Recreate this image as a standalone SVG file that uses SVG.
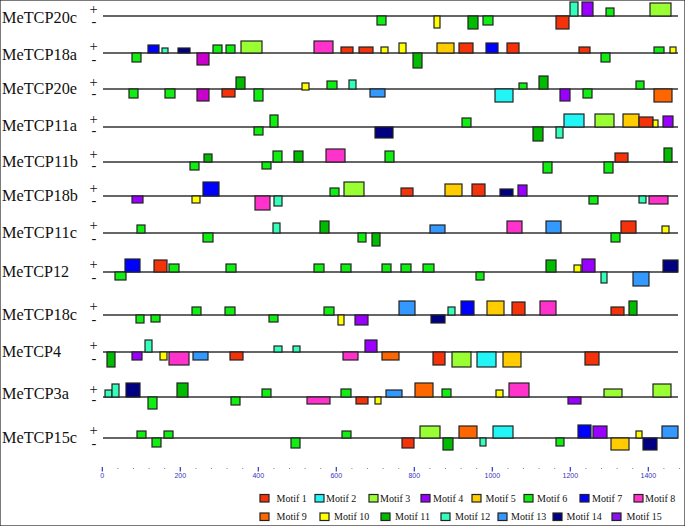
<svg xmlns="http://www.w3.org/2000/svg" width="685" height="526" viewBox="0 0 685 526">
<style>
rect{stroke:#222;stroke-width:1.2}
.ln{stroke:#333;stroke-width:1.6}
.lab{font-family:"Liberation Serif","Times New Roman",serif;font-size:17.5px;fill:#111}
.sg{font-family:"Liberation Serif","Times New Roman",serif;font-size:14.5px;fill:#111;text-anchor:middle}
.ax{font-family:"Liberation Sans",Arial,sans-serif;font-size:7px;fill:#3333bb;text-anchor:middle}
.tk{stroke:#3333bb;stroke-width:1.2}
.dt{fill:#777}
.lg{font-family:"Liberation Serif","Times New Roman",serif;font-size:10px;fill:#111}
.m1{fill:#F5330A}.m2{fill:#22F5F5}.m3{fill:#99FF33}.m4{fill:#9900FF}.m5{fill:#FFCC00}
.m6{fill:#11EE11}.m7{fill:#0000FF}.m8{fill:#FF33CC}.m9{fill:#FF6600}.m10{fill:#FFFF00}
.m11{fill:#00BB00}.m12{fill:#33FFBB}.m13{fill:#3399FF}.m14{fill:#000080}.m15{fill:#8811EE}.mg{fill:#CC00CC}
</style>
<rect width="685" height="526" fill="#fff" stroke="none"/>

<g id="MeTCP20c">
<line class="ln" x1="103" y1="16" x2="678" y2="16"/>
<text class="lab" x="2" y="23" textLength="75" lengthAdjust="spacingAndGlyphs">MeTCP20c</text>
<text class="sg" x="93.5" y="13.5">+</text><text class="sg" x="94" y="26">-</text>
<rect class="m6" x="377" y="16" width="9" height="9"/>
<rect class="m10" x="434" y="16" width="6" height="12"/>
<rect class="m11" x="468" y="16" width="10" height="13"/>
<rect class="m6" x="483" y="16" width="10" height="9"/>
<rect class="m1" x="556" y="16" width="13" height="13"/>
<rect class="m12" x="570" y="2" width="8" height="14"/>
<rect class="m4" x="582" y="2" width="11" height="14"/>
<rect class="m6" x="606" y="8" width="8" height="8"/>
<rect class="m3" x="650" y="3" width="21" height="13"/>
</g>

<g id="MeTCP18a">
<line class="ln" x1="103" y1="53" x2="678" y2="53"/>
<text class="lab" x="2" y="60" textLength="75" lengthAdjust="spacingAndGlyphs">MeTCP18a</text>
<text class="sg" x="93.5" y="50.5">+</text><text class="sg" x="94" y="63.5">-</text>
<rect class="m6" x="132" y="53" width="9" height="9"/>
<rect class="m7" x="148" y="45" width="11" height="8"/>
<rect class="m12" x="162" y="48" width="6" height="5"/>
<rect class="m14" x="178" y="48" width="12" height="5"/>
<rect class="mg" x="197" y="53" width="12" height="12"/>
<rect class="m6" x="213" y="45" width="9" height="8"/>
<rect class="m6" x="226" y="45" width="9" height="8"/>
<rect class="m3" x="241" y="41" width="21" height="12"/>
<rect class="m8" x="314" y="41" width="19" height="12"/>
<rect class="m1" x="341" y="47" width="12" height="6"/>
<rect class="m1" x="359" y="47" width="14" height="6"/>
<rect class="m10" x="381" y="47" width="7" height="6"/>
<rect class="m10" x="399" y="43" width="7" height="10"/>
<rect class="m11" x="413" y="53" width="9" height="15"/>
<rect class="m5" x="437" y="43" width="17" height="10"/>
<rect class="m1" x="459" y="43" width="14" height="10"/>
<rect class="m7" x="486" y="43" width="12" height="10"/>
<rect class="m1" x="507" y="43" width="12" height="10"/>
<rect class="m1" x="579" y="47" width="11" height="6"/>
<rect class="m6" x="601" y="53" width="9" height="9"/>
<rect class="m6" x="654" y="47" width="10" height="6"/>
<rect class="m10" x="670" y="47" width="6" height="6"/>
</g>

<g id="MeTCP20e">
<line class="ln" x1="103" y1="89" x2="678" y2="89"/>
<text class="lab" x="2" y="94" textLength="75" lengthAdjust="spacingAndGlyphs">MeTCP20e</text>
<text class="sg" x="93.5" y="87">+</text><text class="sg" x="94" y="97.5">-</text>
<rect class="m6" x="129" y="89" width="9" height="9"/>
<rect class="m6" x="165" y="89" width="10" height="9"/>
<rect class="mg" x="197" y="89" width="12" height="12"/>
<rect class="m1" x="222" y="89" width="13" height="8"/>
<rect class="m11" x="236" y="77" width="9" height="12"/>
<rect class="m6" x="254" y="89" width="9" height="12"/>
<rect class="m10" x="302" y="83" width="7" height="7"/>
<rect class="m6" x="327" y="81" width="10" height="8"/>
<rect class="m12" x="349" y="80" width="7" height="9"/>
<rect class="m13" x="370" y="89" width="15" height="8"/>
<rect class="m2" x="495" y="89" width="18" height="13"/>
<rect class="m6" x="519" y="83" width="8" height="6"/>
<rect class="m11" x="539" y="76" width="9" height="13"/>
<rect class="m4" x="560" y="89" width="10" height="12"/>
<rect class="m6" x="583" y="89" width="9" height="9"/>
<rect class="m6" x="636" y="81" width="8" height="8"/>
<rect class="m9" x="654" y="89" width="18" height="13"/>
</g>

<g id="MeTCP11a">
<line class="ln" x1="103" y1="127" x2="678" y2="127"/>
<text class="lab" x="2" y="131" textLength="75" lengthAdjust="spacingAndGlyphs">MeTCP11a</text>
<text class="sg" x="93.5" y="123.5">+</text><text class="sg" x="94" y="135">-</text>
<rect class="m6" x="254" y="127" width="9" height="8"/>
<rect class="m6" x="270" y="115" width="8" height="12"/>
<rect class="m14" x="375" y="127" width="18" height="11"/>
<rect class="m6" x="462" y="118" width="9" height="9"/>
<rect class="m11" x="533" y="127" width="10" height="14"/>
<rect class="m12" x="556" y="127" width="7" height="11"/>
<rect class="m2" x="564" y="114" width="20" height="13"/>
<rect class="m3" x="595" y="114" width="19" height="13"/>
<rect class="m5" x="623" y="114" width="16" height="13"/>
<rect class="m1" x="639" y="117" width="14" height="10"/>
<rect class="m10" x="653" y="120" width="5" height="7"/>
<rect class="m4" x="663" y="116" width="10" height="11"/>
</g>

<g id="MeTCP11b">
<line class="ln" x1="103" y1="162" x2="678" y2="162"/>
<text class="lab" x="2" y="166.5" textLength="76" lengthAdjust="spacingAndGlyphs">MeTCP11b</text>
<text class="sg" x="93.5" y="158.5">+</text><text class="sg" x="94" y="170">-</text>
<rect class="m6" x="190" y="162" width="9" height="8"/>
<rect class="m11" x="204" y="154" width="8" height="8"/>
<rect class="m6" x="262" y="162" width="9" height="7"/>
<rect class="m6" x="273" y="151" width="9" height="11"/>
<rect class="m11" x="294" y="151" width="9" height="11"/>
<rect class="m8" x="326" y="149" width="19" height="13"/>
<rect class="m6" x="385" y="151" width="9" height="11"/>
<rect class="m6" x="543" y="162" width="9" height="11"/>
<rect class="m6" x="604" y="162" width="9" height="11"/>
<rect class="m1" x="615" y="153" width="13" height="9"/>
<rect class="m11" x="664" y="148" width="8" height="14"/>
</g>

<g id="MeTCP18b">
<line class="ln" x1="103" y1="196" x2="678" y2="196"/>
<text class="lab" x="2" y="201" textLength="76" lengthAdjust="spacingAndGlyphs">MeTCP18b</text>
<text class="sg" x="93.5" y="192.5">+</text><text class="sg" x="94" y="205">-</text>
<rect class="m4" x="132" y="196" width="11" height="7"/>
<rect class="m10" x="192" y="196" width="8" height="7"/>
<rect class="m7" x="203" y="182" width="16" height="14"/>
<rect class="m8" x="255" y="196" width="15" height="14"/>
<rect class="m12" x="274" y="196" width="8" height="10"/>
<rect class="m6" x="330" y="188" width="9" height="8"/>
<rect class="m3" x="344" y="182" width="20" height="14"/>
<rect class="m1" x="401" y="188" width="12" height="8"/>
<rect class="m5" x="445" y="184" width="17" height="12"/>
<rect class="m1" x="472" y="184" width="13" height="12"/>
<rect class="m14" x="500" y="189" width="13" height="7"/>
<rect class="m4" x="518" y="185" width="9" height="11"/>
<rect class="m6" x="589" y="196" width="9" height="8"/>
<rect class="m12" x="639" y="196" width="7" height="7"/>
<rect class="m8" x="649" y="196" width="19" height="8"/>
</g>

<g id="MeTCP11c">
<line class="ln" x1="103" y1="233" x2="678" y2="233"/>
<text class="lab" x="2" y="238" textLength="75" lengthAdjust="spacingAndGlyphs">MeTCP11c</text>
<text class="sg" x="93.5" y="230">+</text><text class="sg" x="94" y="242.5">-</text>
<rect class="m6" x="137" y="225" width="8" height="8"/>
<rect class="m6" x="203" y="233" width="10" height="9"/>
<rect class="m12" x="273" y="223" width="7" height="10"/>
<rect class="m11" x="320" y="221" width="9" height="12"/>
<rect class="m6" x="358" y="233" width="8" height="9"/>
<rect class="m11" x="372" y="233" width="8" height="13"/>
<rect class="m13" x="430" y="225" width="15" height="8"/>
<rect class="m8" x="507" y="221" width="15" height="12"/>
<rect class="m13" x="546" y="221" width="15" height="12"/>
<rect class="m6" x="611" y="233" width="9" height="9"/>
<rect class="m1" x="621" y="221" width="15" height="12"/>
<rect class="m10" x="662" y="226" width="7" height="7"/>
</g>

<g id="MeTCP12">
<line class="ln" x1="103" y1="272" x2="678" y2="272"/>
<text class="lab" x="2" y="276.5" textLength="67" lengthAdjust="spacingAndGlyphs">MeTCP12</text>
<text class="sg" x="93.5" y="268.5">+</text><text class="sg" x="94" y="281.5">-</text>
<rect class="m6" x="115" y="272" width="11" height="8"/>
<rect class="m7" x="125" y="259" width="15" height="13"/>
<rect class="m1" x="154" y="260" width="13" height="12"/>
<rect class="m6" x="169" y="264" width="10" height="8"/>
<rect class="m6" x="226" y="264" width="10" height="8"/>
<rect class="m6" x="314" y="264" width="10" height="8"/>
<rect class="m6" x="341" y="264" width="10" height="8"/>
<rect class="m6" x="382" y="264" width="9" height="8"/>
<rect class="m6" x="401" y="264" width="10" height="8"/>
<rect class="m6" x="423" y="264" width="11" height="8"/>
<rect class="m6" x="476" y="272" width="8" height="8"/>
<rect class="m11" x="546" y="260" width="10" height="12"/>
<rect class="m10" x="574" y="265" width="7" height="7"/>
<rect class="m4" x="582" y="259" width="13" height="13"/>
<rect class="m12" x="601" y="272" width="6" height="11"/>
<rect class="m13" x="633" y="272" width="16" height="14"/>
<rect class="m14" x="663" y="260" width="15" height="12"/>
</g>

<g id="MeTCP18c">
<line class="ln" x1="103" y1="315" x2="678" y2="315"/>
<text class="lab" x="2" y="319.5" textLength="75" lengthAdjust="spacingAndGlyphs">MeTCP18c</text>
<text class="sg" x="93.5" y="310.5">+</text><text class="sg" x="94" y="324">-</text>
<rect class="m6" x="136" y="315" width="8" height="8"/>
<rect class="m6" x="151" y="315" width="9" height="7"/>
<rect class="m6" x="192" y="307" width="9" height="8"/>
<rect class="m6" x="225" y="307" width="10" height="8"/>
<rect class="m6" x="269" y="315" width="9" height="7"/>
<rect class="m6" x="324" y="307" width="10" height="8"/>
<rect class="m10" x="338" y="315" width="6" height="10"/>
<rect class="m4" x="355" y="315" width="13" height="10"/>
<rect class="m13" x="399" y="301" width="16" height="14"/>
<rect class="m14" x="431" y="315" width="14" height="8"/>
<rect class="m12" x="448" y="307" width="7" height="8"/>
<rect class="m7" x="461" y="301" width="13" height="14"/>
<rect class="m5" x="487" y="301" width="17" height="14"/>
<rect class="m1" x="512" y="302" width="13" height="13"/>
<rect class="m8" x="540" y="301" width="16" height="14"/>
<rect class="m1" x="611" y="307" width="13" height="8"/>
<rect class="m11" x="629" y="301" width="8" height="14"/>
</g>

<g id="MeTCP4">
<line class="ln" x1="103" y1="352" x2="678" y2="352"/>
<text class="lab" x="2" y="356.5" textLength="59" lengthAdjust="spacingAndGlyphs">MeTCP4</text>
<text class="sg" x="93.5" y="349.5">+</text><text class="sg" x="94" y="362.5">-</text>
<rect class="m11" x="107" y="352" width="8" height="15"/>
<rect class="m4" x="132" y="352" width="10" height="8"/>
<rect class="m12" x="145" y="340" width="7" height="12"/>
<rect class="m10" x="160" y="352" width="7" height="8"/>
<rect class="m8" x="169" y="352" width="20" height="13"/>
<rect class="m13" x="193" y="352" width="15" height="8"/>
<rect class="m1" x="230" y="352" width="13" height="8"/>
<rect class="m12" x="274" y="346" width="8" height="6"/>
<rect class="m12" x="293" y="346" width="7" height="6"/>
<rect class="m8" x="343" y="352" width="15" height="8"/>
<rect class="m4" x="365" y="340" width="12" height="12"/>
<rect class="m9" x="382" y="352" width="17" height="8"/>
<rect class="m1" x="433" y="352" width="12" height="13"/>
<rect class="m3" x="452" y="352" width="19" height="15"/>
<rect class="m2" x="477" y="352" width="19" height="15"/>
<rect class="m5" x="503" y="352" width="18" height="15"/>
<rect class="m1" x="585" y="352" width="14" height="13"/>
</g>

<g id="MeTCP3a">
<line class="ln" x1="103" y1="397" x2="678" y2="397"/>
<text class="lab" x="2" y="398.5" textLength="67" lengthAdjust="spacingAndGlyphs">MeTCP3a</text>
<text class="sg" x="93.5" y="393.5">+</text><text class="sg" x="94" y="404">-</text>
<rect class="m12" x="105" y="390" width="7" height="7"/>
<rect class="m12" x="112" y="384" width="7" height="13"/>
<rect class="m14" x="126" y="383" width="14" height="14"/>
<rect class="m6" x="148" y="397" width="9" height="12"/>
<rect class="m11" x="177" y="383" width="11" height="14"/>
<rect class="m6" x="231" y="397" width="9" height="8"/>
<rect class="m6" x="262" y="389" width="9" height="8"/>
<rect class="m8" x="307" y="397" width="23" height="7"/>
<rect class="m6" x="341" y="389" width="10" height="8"/>
<rect class="m1" x="356" y="397" width="12" height="7"/>
<rect class="m10" x="375" y="397" width="6" height="7"/>
<rect class="m13" x="386" y="390" width="16" height="7"/>
<rect class="m9" x="415" y="383" width="18" height="14"/>
<rect class="m6" x="442" y="389" width="9" height="8"/>
<rect class="m10" x="496" y="390" width="7" height="7"/>
<rect class="m8" x="509" y="383" width="20" height="14"/>
<rect class="m4" x="568" y="397" width="13" height="7"/>
<rect class="m3" x="604" y="389" width="18" height="8"/>
<rect class="m3" x="653" y="384" width="18" height="13"/>
</g>

<g id="MeTCP15c">
<line class="ln" x1="103" y1="438" x2="678" y2="438"/>
<text class="lab" x="2" y="442.5" textLength="75" lengthAdjust="spacingAndGlyphs">MeTCP15c</text>
<text class="sg" x="93.5" y="435">+</text><text class="sg" x="94" y="447.5">-</text>
<rect class="m6" x="137" y="431" width="9" height="7"/>
<rect class="m6" x="152" y="438" width="9" height="9"/>
<rect class="m6" x="164" y="431" width="9" height="7"/>
<rect class="m6" x="291" y="438" width="9" height="10"/>
<rect class="m6" x="342" y="431" width="9" height="7"/>
<rect class="m1" x="402" y="438" width="12" height="10"/>
<rect class="m3" x="420" y="426" width="20" height="12"/>
<rect class="m11" x="443" y="438" width="10" height="12"/>
<rect class="m9" x="459" y="426" width="18" height="12"/>
<rect class="m12" x="480" y="438" width="6" height="8"/>
<rect class="m2" x="493" y="426" width="20" height="12"/>
<rect class="m6" x="556" y="438" width="8" height="8"/>
<rect class="m7" x="578" y="425" width="13" height="13"/>
<rect class="m4" x="593" y="426" width="14" height="12"/>
<rect class="m5" x="611" y="438" width="18" height="12"/>
<rect class="m10" x="636" y="431" width="6" height="7"/>
<rect class="m14" x="643" y="438" width="14" height="12"/>
<rect class="m13" x="662" y="426" width="16" height="12"/>
</g>

<g id="axis">
<g class="tk">
<line x1="102.3" y1="467" x2="102.3" y2="471.5"/>
<line x1="180.3" y1="467" x2="180.3" y2="471.5"/>
<line x1="258.3" y1="467" x2="258.3" y2="471.5"/>
<line x1="336.3" y1="467" x2="336.3" y2="471.5"/>
<line x1="414.3" y1="467" x2="414.3" y2="471.5"/>
<line x1="492.3" y1="467" x2="492.3" y2="471.5"/>
<line x1="570.3" y1="467" x2="570.3" y2="471.5"/>
<line x1="648.3" y1="467" x2="648.3" y2="471.5"/>
</g>
<g class="dt">
<circle cx="117.9" cy="468.5" r="0.6"/><circle cx="133.5" cy="468.5" r="0.6"/><circle cx="149.1" cy="468.5" r="0.6"/><circle cx="164.7" cy="468.5" r="0.6"/>
<circle cx="195.9" cy="468.5" r="0.6"/><circle cx="211.5" cy="468.5" r="0.6"/><circle cx="227.1" cy="468.5" r="0.6"/><circle cx="242.7" cy="468.5" r="0.6"/>
<circle cx="273.9" cy="468.5" r="0.6"/><circle cx="289.5" cy="468.5" r="0.6"/><circle cx="305.1" cy="468.5" r="0.6"/><circle cx="320.7" cy="468.5" r="0.6"/>
<circle cx="351.9" cy="468.5" r="0.6"/><circle cx="367.5" cy="468.5" r="0.6"/><circle cx="383.1" cy="468.5" r="0.6"/><circle cx="398.7" cy="468.5" r="0.6"/>
<circle cx="429.9" cy="468.5" r="0.6"/><circle cx="445.5" cy="468.5" r="0.6"/><circle cx="461.1" cy="468.5" r="0.6"/><circle cx="476.7" cy="468.5" r="0.6"/>
<circle cx="507.9" cy="468.5" r="0.6"/><circle cx="523.5" cy="468.5" r="0.6"/><circle cx="539.1" cy="468.5" r="0.6"/><circle cx="554.7" cy="468.5" r="0.6"/>
<circle cx="585.9" cy="468.5" r="0.6"/><circle cx="601.5" cy="468.5" r="0.6"/><circle cx="617.1" cy="468.5" r="0.6"/><circle cx="632.7" cy="468.5" r="0.6"/>
<circle cx="663.9" cy="468.5" r="0.6"/><circle cx="679.5" cy="468.5" r="0.6"/>
</g>
<text class="ax" x="102.3" y="478">0</text>
<text class="ax" x="180.3" y="478">200</text>
<text class="ax" x="258.3" y="478">400</text>
<text class="ax" x="336.3" y="478">600</text>
<text class="ax" x="414.3" y="478">800</text>
<text class="ax" x="492.3" y="478">1000</text>
<text class="ax" x="570.3" y="478">1200</text>
<text class="ax" x="648.3" y="478">1400</text>
</g>

<g id="legend">
<rect class="m1" x="260" y="494.5" width="9" height="7.5"/><text class="lg" x="276.5" y="501.5">Motif 1</text>
<rect class="m2" x="315" y="494.5" width="9" height="7.5"/><text class="lg" x="326" y="501.5">Motif 2</text>
<rect class="m3" x="369" y="494.5" width="9" height="7.5"/><text class="lg" x="380" y="501.5">Motif 3</text>
<rect class="m4" x="421" y="494.5" width="9" height="7.5"/><text class="lg" x="433" y="501.5">Motif 4</text>
<rect class="m5" x="472" y="494.5" width="9" height="7.5"/><text class="lg" x="485.5" y="501.5">Motif 5</text>
<rect class="m6" x="524" y="494.5" width="9" height="7.5"/><text class="lg" x="537" y="501.5">Motif 6</text>
<rect class="m7" x="580" y="494.5" width="9" height="7.5"/><text class="lg" x="592" y="501.5">Motif 7</text>
<rect class="m8" x="634" y="494.5" width="9" height="7.5"/><text class="lg" x="645" y="501.5">Motif 8</text>
<rect class="m9" x="260" y="513" width="9" height="7.5"/><text class="lg" x="276.5" y="520">Motif 9</text>
<rect class="m10" x="320" y="513" width="9" height="7.5"/><text class="lg" x="334" y="520">Motif 10</text>
<rect class="m11" x="381" y="513" width="9" height="7.5"/><text class="lg" x="395" y="520">Motif 11</text>
<rect class="m12" x="441" y="513" width="9" height="7.5"/><text class="lg" x="455" y="520">Motif 12</text>
<rect class="m13" x="498" y="513" width="9" height="7.5"/><text class="lg" x="511" y="520">Motif 13</text>
<rect class="m14" x="553" y="513" width="9" height="7.5"/><text class="lg" x="566.5" y="520">Motif 14</text>
<rect class="m15" x="612" y="513" width="9" height="7.5"/><text class="lg" x="626.5" y="520">Motif 15</text>
</g>
</svg>
